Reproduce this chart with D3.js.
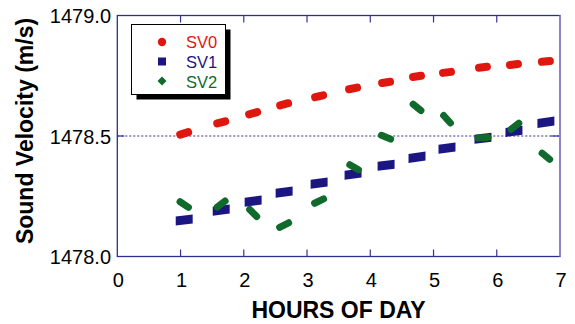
<!DOCTYPE html>
<html lang="en">
<head>
    <meta charset="UTF-8">
    <title>Sound Velocity vs Hours of Day</title>
    <script src="https://d3js.org/d3.v7.min.js"></script>
    <style>
      body { margin: 0; background: #fff; }
      text { font-family: "Liberation Sans", Arial, sans-serif; }
    </style>
</head>
<body>
    <script>

      // Each series was logged in short runs; every run is stored by its start/end hour and value
      const seriesNames = ["SV0", "SV1", "SV2"];
      const seriesColors = ["#e0170f", "#1c1682", "#0f6a2c"];

      const runStart = [0.995, 1.580, 2.085, 2.575, 3.128, 3.665, 4.187, 4.676, 5.150, 5.719, 6.209, 6.714];
      const runEnd   = [1.121, 1.706, 2.211, 2.701, 3.254, 3.791, 4.313, 4.802, 5.276, 5.845, 6.335, 6.840];

      const sv0Start = [1478.506, 1478.552, 1478.590, 1478.627, 1478.661, 1478.694, 1478.720, 1478.745, 1478.762, 1478.783, 1478.795, 1478.808];
      const sv0End   = [1478.516, 1478.561, 1478.599, 1478.636, 1478.669, 1478.701, 1478.725, 1478.750, 1478.766, 1478.787, 1478.799, 1478.811];

      const sv1Start = [1478.147, 1478.188, 1478.225, 1478.262, 1478.300, 1478.337, 1478.374, 1478.407, 1478.445, 1478.486, 1478.515, 1478.552];
      const sv1End   = [1478.156, 1478.197, 1478.234, 1478.272, 1478.309, 1478.346, 1478.383, 1478.417, 1478.454, 1478.495, 1478.524, 1478.562];

      const sv2T0    = [0.992, 1.581, 2.093, 2.567, 3.120, 3.676, 4.177, 4.678, 5.160, 5.703, 6.226, 6.717];
      const sv2T1    = [1.125, 1.705, 2.204, 2.709, 3.262, 3.812, 4.322, 4.801, 5.267, 5.861, 6.349, 6.837];
      const sv2Start = [1478.227, 1478.205, 1478.195, 1478.121, 1478.221, 1478.381, 1478.503, 1478.632, 1478.585, 1478.492, 1478.528, 1478.429];
      const sv2End   = [1478.204, 1478.230, 1478.166, 1478.140, 1478.239, 1478.360, 1478.487, 1478.606, 1478.554, 1478.494, 1478.553, 1478.403];

      const xTicks = [0, 1, 2, 3, 4, 5, 6, 7];
      const yTicks = [1478.0, 1478.5, 1479.0];

      const width = 575, height = 324;
      const plotLeft = 117.3, plotRight = 560, plotTop = 15.5, plotBottom = 256.5;

      const svg = d3.select("body").append("svg").attr("width", width).attr("height", height);

      const x = d3.scaleLinear().domain([0, 7]).range([plotLeft, plotRight]);
      const y = d3.scaleLinear().domain([1478, 1479]).range([plotBottom, plotTop]);

      // dotted reference line at the middle tick
      svg.append("line")
        .attr("x1", plotLeft).attr("x2", plotRight)
        .attr("y1", y(1478.5)).attr("y2", y(1478.5))
        .attr("stroke", "#2a2a90").attr("stroke-width", 1)
        .attr("stroke-dasharray", "2,2");

      // ticks pointing inward, top and bottom
      const tickG = svg.append("g").attr("stroke", "#33339a").attr("stroke-width", 1.2);
      xTicks.slice(1, -1).forEach(t => {
        tickG.append("line").attr("x1", x(t)).attr("x2", x(t)).attr("y1", plotBottom).attr("y2", plotBottom - 7);
        tickG.append("line").attr("x1", x(t)).attr("x2", x(t)).attr("y1", plotTop).attr("y2", plotTop + 7);
      });
      tickG.append("line").attr("x1", plotLeft).attr("x2", plotLeft + 7).attr("y1", y(1478.5)).attr("y2", y(1478.5));
      tickG.append("line").attr("x1", plotRight).attr("x2", plotRight - 9).attr("y1", y(1478.5)).attr("y2", y(1478.5));

      // frame
      svg.append("rect")
        .attr("x", plotLeft).attr("y", plotTop)
        .attr("width", plotRight - plotLeft).attr("height", plotBottom - plotTop)
        .attr("fill", "none").attr("stroke", "#2e2e92").attr("stroke-width", 1.3);
      svg.append("line")
        .attr("x1", plotRight).attr("x2", plotRight).attr("y1", plotTop).attr("y2", plotBottom)
        .attr("stroke", "#8a84c6").attr("stroke-width", 2);

      // tick labels
      svg.append("g").selectAll("text")
        .data(xTicks)
        .enter().append("text")
        .attr("x", d => x(d) + 1)
        .attr("y", 287)
        .attr("text-anchor", "middle")
        .attr("font-size", 20)
        .text(d => d);

      svg.append("g").selectAll("text")
        .data(yTicks)
        .enter().append("text")
        .attr("x", 111)
        .attr("y", d => y(d) + 7.5)
        .attr("text-anchor", "end")
        .attr("font-size", 20)
        .text(d => d.toFixed(1));

      // axis titles
      svg.append("text")
        .attr("x", 338.5).attr("y", 318)
        .attr("text-anchor", "middle")
        .attr("font-size", 23).attr("font-weight", "bold")
        .text("HOURS OF DAY");

      svg.append("text")
        .attr("transform", "translate(33,131) rotate(-90)")
        .attr("text-anchor", "middle")
        .attr("font-size", 23).attr("font-weight", "bold")
        .text("Sound Velocity (m/s)");

      // SV0 : dense circles -> rounded dashes
      svg.append("g").selectAll("line")
        .data(d3.range(runStart.length))
        .enter().append("line")
        .attr("x1", i => x(runStart[i])).attr("y1", i => y(sv0Start[i]))
        .attr("x2", i => x(runEnd[i])).attr("y2", i => y(sv0End[i]))
        .attr("stroke", seriesColors[0]).attr("stroke-width", 8)
        .attr("stroke-linecap", "round");

      // SV1 : dense squares -> slanted blocks with vertical ends
      const h = 4.5;
      svg.append("g").selectAll("path")
        .data(d3.range(runStart.length))
        .enter().append("path")
        .attr("d", i => {
          const x0 = x(runStart[i]) - h, x1 = x(runEnd[i]) + h;
          const y0 = y(sv1Start[i]), y1 = y(sv1End[i]);
          return `M${x0},${y0 - h}L${x1},${y1 - h}L${x1},${y1 + h}L${x0},${y0 + h}Z`;
        })
        .attr("fill", seriesColors[1]);

      // SV2 : dense diamonds -> thick strokes
      svg.append("g").selectAll("line")
        .data(d3.range(sv2T0.length))
        .enter().append("line")
        .attr("x1", i => x(sv2T0[i])).attr("y1", i => y(sv2Start[i]))
        .attr("x2", i => x(sv2T1[i])).attr("y2", i => y(sv2End[i]))
        .attr("stroke", seriesColors[2]).attr("stroke-width", 7)
        .attr("stroke-linecap", "round");

      // legend with drop shadow
      const lg = svg.append("g");
      lg.append("rect").attr("x", 136.5).attr("y", 29.5).attr("width", 94).attr("height", 70).attr("fill", "#000");
      lg.append("rect").attr("x", 131.5).attr("y", 24.5).attr("width", 94).attr("height", 70)
        .attr("fill", "#fff").attr("stroke", "#000").attr("stroke-width", 1);

      lg.append("circle").attr("cx", 162).attr("cy", 42).attr("r", 4.2).attr("fill", seriesColors[0]);
      lg.append("rect").attr("x", 158).attr("y", 57.5).attr("width", 8).attr("height", 8).attr("fill", seriesColors[1]);
      lg.append("path").attr("d", "M162,76.5L166.5,81L162,85.5L157.5,81Z").attr("fill", seriesColors[2]);

      lg.selectAll("text.lbl")
        .data(seriesNames)
        .enter().append("text")
        .attr("class", "lbl")
        .attr("x", 186)
        .attr("y", (d, i) => 47.5 + i * 20)
        .attr("font-size", 16.5)
        .attr("fill", (d, i) => seriesColors[i])
        .text(d => d);

    </script>
</body>
</html>
